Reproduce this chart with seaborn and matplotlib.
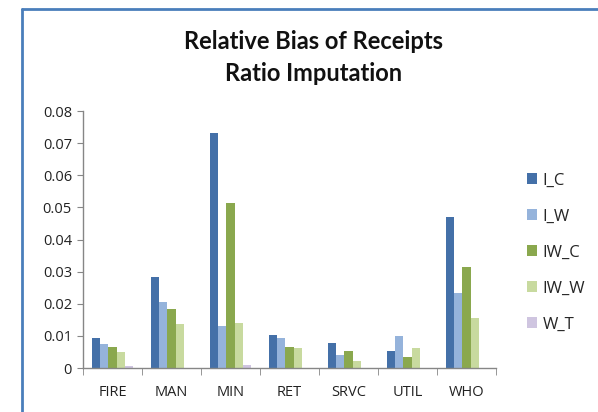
import numpy as np
import pandas as pd
import matplotlib
matplotlib.use("Agg")
import matplotlib.pyplot as plt
from matplotlib.lines import Line2D
from matplotlib.ticker import FuncFormatter, FixedLocator
import seaborn as sns

categories = ["FIRE", "MAN", "MIN", "RET", "SRVC", "UTIL", "WHO"]
series = ["I_C", "I_W", "IW_C", "IW_W", "W_T"]
I_C = [0.0094, 0.0282, 0.0730, 0.0102, 0.0079, 0.0054, 0.0471]
I_W = [0.0076, 0.0207, 0.0132, 0.0094, 0.0039, 0.0101, 0.0234]
IW_C = [0.0066, 0.0185, 0.0515, 0.0066, 0.0054, 0.0035, 0.0313]
IW_W = [0.0049, 0.0137, 0.0141, 0.0062, 0.0023, 0.0062, 0.0155]
W_T = [0.0005, 0.0001, 0.0010, 0.0001, 0.0001, 0.0001, 0.0001]
colors = ["#4470A8", "#95B3DB", "#8AA84E", "#C8DA9F", "#CFC5E0"]

values = {"I_C": I_C, "I_W": I_W, "IW_C": IW_C, "IW_W": IW_W, "W_T": W_T}
rows = []
for s in series:
    for c, v in zip(categories, values[s]):
        rows.append({"cat": c, "series": s, "value": v})
df = pd.DataFrame(rows)

sns.set_style("white")
plt.rcParams["font.family"] = ["Open Sans", "DejaVu Sans"]

fig = plt.figure(figsize=(5.98, 4.12), dpi=100)
ax = fig.add_axes([83 / 598, 44 / 412, (496 - 83) / 598, (368 - 111) / 412])

sns.barplot(data=df, x="cat", y="value", hue="series", order=categories,
            hue_order=series, palette=colors, width=0.7, saturation=1,
            linewidth=0, edgecolor="none", ax=ax, legend=True)

ax.set_ylim(0, 0.08)
ax.set_xlim(-0.5, 6.5)
ax.yaxis.set_major_locator(FixedLocator(np.arange(0, 0.0801, 0.01)))
ax.yaxis.set_major_formatter(FuncFormatter(lambda v, p: "0" if abs(v) < 1e-9 else f"{v:.2f}"))
ax.set_xlabel("")
ax.set_ylabel("")
for s in ["top", "right"]:
    ax.spines[s].set_visible(False)
for s in ["left", "bottom"]:
    ax.spines[s].set_color("#868686")
    ax.spines[s].set_linewidth(1.0)
ax.tick_params(axis="y", which="major", length=4, direction="out", color="#868686",
               labelsize=10.5, labelcolor="#222222", left=True, pad=4)
ax.tick_params(axis="x", which="major", length=0, labelsize=10.5, labelcolor="#222222", pad=12)
ax.set_xticks(np.arange(-0.5, 7, 1), minor=True)
ax.tick_params(axis="x", which="minor", length=5, direction="out", color="#868686", bottom=True)

leg = ax.legend(loc="center left", bbox_to_anchor=(1.058, 0.45), frameon=False,
                fontsize=12, labelspacing=1.2, handlelength=0.6, handleheight=0.6,
                handletextpad=0.35, borderaxespad=0)

fig.text(0.525, 0.860, "Relative Bias of Receipts\nRatio Imputation", ha="center", va="center",
         fontsize=17, fontweight="bold", linespacing=1.45, color="#111111",
         family=["Lato", "DejaVu Sans"])

fig.add_artist(Line2D([22 / 598, 22 / 598], [0, 1 - 9 / 412], transform=fig.transFigure,
                      color="#4A7EBB", lw=2))
fig.add_artist(Line2D([22 / 598, 1], [1 - 9 / 412, 1 - 9 / 412], transform=fig.transFigure,
                      color="#4A7EBB", lw=2))

fig.savefig("out.png", dpi=100)
